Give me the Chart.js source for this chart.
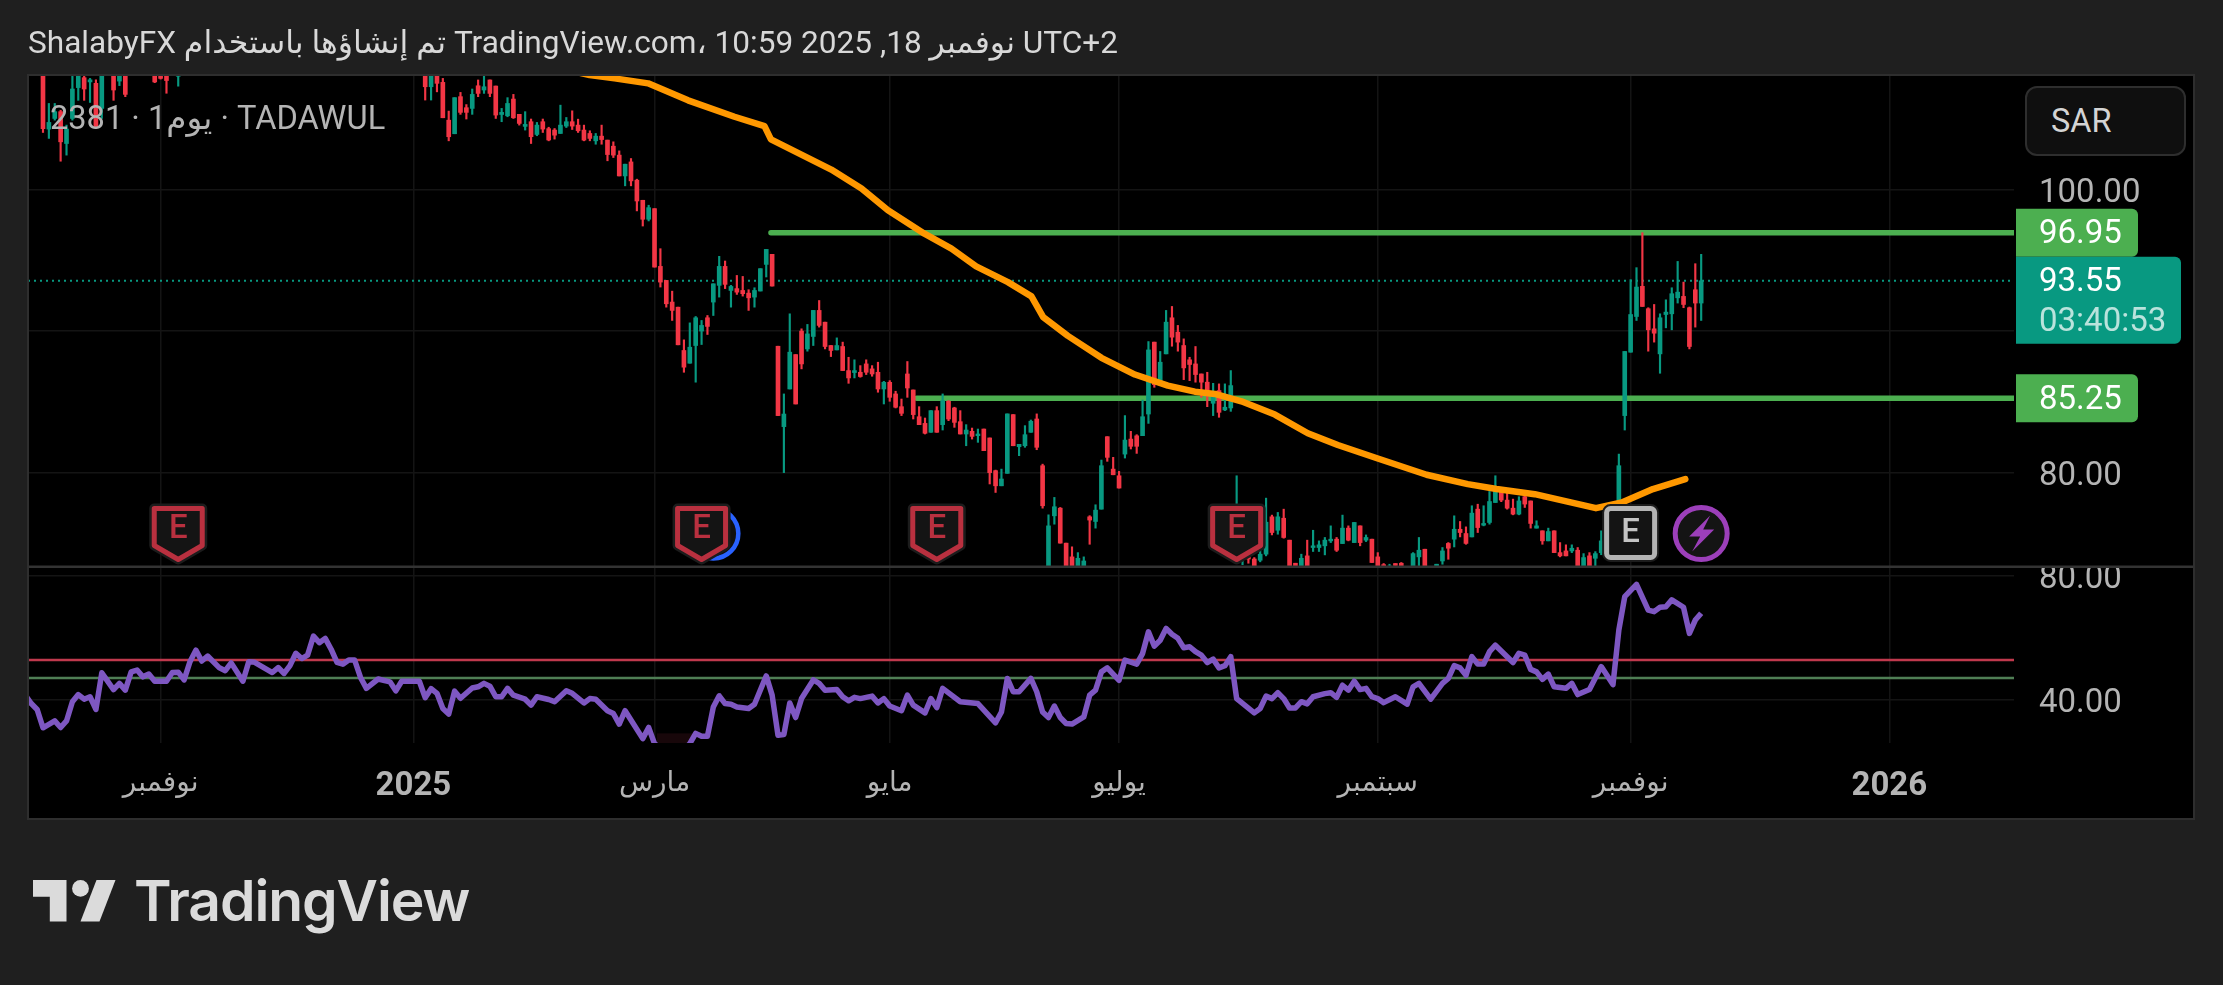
<!DOCTYPE html>
<html lang="ar">
<head>
<meta charset="utf-8">
<title>TADAWUL 2381</title>
<script src="https://cdn.jsdelivr.net/npm/chart.js@4"></script>
<style>
  html, body { margin: 0; padding: 0; background: #1f1f1f; }
  #wrap { position: relative; width: 2223px; height: 985px; overflow: hidden; font-family: Roboto, "DejaVu Sans", sans-serif; }
  canvas { position: absolute; left: 0; top: 0; }
  .bd { unicode-bidi: isolate; }
  #title { position: absolute; left: 28px; top: 24px; line-height: 38px; font-size: 31.6px; color: #d8d8d8; white-space: nowrap; direction: ltr; }
  #symbol { position: absolute; left: 50px; top: 99px; line-height: 38px; font-size: 32.6px; color: #b4b4b4; white-space: nowrap; direction: ltr; }
  #currency { position: absolute; left: 2025px; top: 86px; width: 161px; height: 70px; box-sizing: border-box; border: 2px solid #2e2e2e; border-radius: 12px; background: #0f0f0f; color: #d4d4d4; font-size: 32.5px; line-height: 66px; padding-left: 24px; }
  #logo { position: absolute; left: 33px; top: 880px; }
  #brand { position: absolute; left: 134px; top: 866px; line-height: 70px; font-family: Inter, Roboto, sans-serif; font-weight: 600; font-size: 57px; letter-spacing: -1.1px; color: #dbdbdb; white-space: nowrap; }
</style>
</head>
<body>
<div id="wrap">
  <canvas id="myChart" width="2223" height="985"></canvas>
  <div id="title"><span class="bd">ShalabyFX</span> <span class="bd">تم إنشاؤها باستخدام</span> <span class="bd">TradingView.com،</span> <span class="bd">10:59</span> <span class="bd">2025</span> <span class="bd" dir="ltr">,18</span> <span class="bd">نوفمبر</span> <span class="bd">UTC+2</span></div>
  <div id="symbol"><span class="bd">2381 · 1</span><span class="bd">يوم</span><span class="bd"> · TADAWUL</span></div>
  <div id="currency">SAR</div>
  <svg id="logo" width="84" height="42" viewBox="0 0 84 42">
    <path fill="#dbdbdb" d="M0 0H33.5V41.6H16.8V16.7H0Z"/>
    <circle fill="#dbdbdb" cx="47.5" cy="8.4" r="8.4"/>
    <path fill="#dbdbdb" d="M63.5 0H82.5L66.5 41.6H47.5Z"/>
  </svg>
  <div id="brand">TradingView</div>
</div>
<script>
const _ = null;

// daily candles, one slot per trading day, _ = bar is off the visible price range
const opens = [
  109,104.27,105.02,105.5,103.25,105.02,107.2,107.9,107.6,107.5,
  105.73,_,108.3,107.66,108.4,_,_,_,_,108.5,
  108.4,108.3,_,108,_,_,_,_,_,_,
  _,_,_,_,_,_,_,_,_,_,
  _,_,_,_,_,_,_,_,_,_,
  _,_,_,_,_,_,_,_,_,_,
  _,_,_,_,_,108.5,107.26,108,107.57,104.9,
  103.94,106.56,105.78,105.73,107.33,107.03,107.74,107.31,105.3,105.21,
  106.39,105.31,104.46,104.79,103.89,104.79,104.3,104.2,103.96,104.48,
  104.79,104.55,104.2,103.96,103.44,103.77,103.49,103.06,102.43,100.96,
  101.95,100.66,99.24,97.9,98.65,94.57,93.58,92.05,91.69,88.63,
  87.73,88.98,90,90.94,92.05,93.23,94.57,92.87,93,92.87,
  92.68,92.4,92.83,94.71,95.42,88.93,83.25,85.91,88.34,90,
  88.74,89.62,91.46,90.63,88.98,88.67,88.91,87.21,87.07,87.09,
  87.68,87.33,87.09,85.91,86.38,85.56,84.66,86.97,85.84,83.95,
  83.48,82.85,84.38,83.39,85.04,84.57,83.6,82.73,82.92,82.61,
  83.08,82.45,80.14,79.07,79.95,84.1,81.83,81.9,82.85,83.79,
  80.49,73,76.95,77.49,75.02,74.05,73.4,73.3,76.88,76.55,
  77.42,82.54,80.25,79.78,81.31,82.37,82.6,82.61,84.14,89.22,
  86.27,88.39,90.94,89.92,88.98,87.97,87.68,86.97,86.39,84.9,
  85.8,84.43,84.57,74.8,74,74.2,73.9,73.81,74.24,76.88,
  75.93,76.78,75.23,73.6,73.3,74.12,74.71,74.71,74.83,75.18,
  75.3,74.99,76.08,75.06,76.24,75.23,75.3,74.05,73.5,73.2,
  73.58,73.6,_,73,74.05,74.59,_,73,73.76,75,
  75.3,76,75.7,75.46,77.42,76.29,76.48,77.89,78.84,78.06,
  77.49,77.07,78.3,78,76.08,75.89,75.18,75.89,74.35,74.47,
  74.47,74.52,73.2,74.12,73.95,74.35,75.2,75.5,76,84.03,
  88.51,91.03,93.16,91.58,90.16,88.39,91.17,91.22,92.35,92.45,
  91.65,92.92,91.98
];
const highs = [
  109.5,106.08,106.08,105.6,104.55,108.2,108.6,108.3,107.85,107.75,
  108.6,_,108.8,108.6,108.8,_,_,_,_,108.8,
  108.6,108.6,_,108.6,_,_,_,_,_,_,
  _,_,_,_,_,_,_,_,_,_,
  _,_,_,_,_,_,_,_,_,_,
  _,_,_,_,_,_,_,_,_,_,
  _,_,_,_,_,108.8,108.8,108.4,107.85,105.54,
  106.49,106.86,106,107.1,107.74,108.09,107.74,107.31,105.73,106.49,
  106.72,105.31,105.5,104.98,104.74,104.98,104.4,104.31,105.96,105.09,
  105.56,104.97,104.55,104.15,103.96,104.55,103.49,103.37,102.73,101.79,
  102.19,100.73,99.24,98.89,98.65,95.82,93.58,92.82,91.69,89.38,
  90.58,91.03,90.75,91.1,93.34,95.28,94.95,93.23,93.93,93.86,
  92.92,93.06,94.41,95.77,95.42,88.93,85.56,91.22,88.34,90.16,
  90.47,91.46,92.16,90.63,88.98,89.52,89.22,88.15,87.97,87.56,
  87.97,87.56,87.8,86.45,86.5,85.75,85.2,87.85,85.84,84.66,
  83.86,84.38,84.66,85.56,85.09,84.62,84.38,83.39,83.15,83.08,
  83.08,82.45,80.18,80.25,84.15,84.1,82,83.32,83.72,84.15,
  80.6,77.02,78.25,77.54,75.02,74.76,74.35,74.05,76.96,77.73,
  80.89,82.54,81.08,80.09,84.03,82.92,82.68,85.13,89.26,89.22,
  88.56,91.46,91.74,90.4,89.45,88.15,88.91,86.97,87.09,86.31,
  86.27,86.27,87.21,79.78,75,74.5,74,74.5,78.2,77,
  77.19,77.42,75.23,73.6,74.24,75.23,75.93,75.18,75.42,76.24,
  75.42,77,76.24,76.48,76.24,75.6,75.3,74.35,73.58,73.53,
  73.58,73.65,_,74.35,75.42,74.59,_,73.53,74.71,75.06,
  76.95,76.55,76.17,77.66,77.77,77.66,78.67,79.78,78.95,78.72,
  78.13,78.3,78.37,78,76.6,75.89,76.08,75.89,75.06,74.9,
  74.9,74.71,74.28,74.35,74.42,75.89,75.7,76.1,81.31,88.56,
  93.63,94.48,96.95,91.65,91.88,91.22,92.21,93.06,94.92,93.46,
  91.7,94.76,95.42
];
const lows = [
  104.03,103.61,104.9,102,102.43,104.9,106.3,106.3,106.15,104.3,
  105.02,_,106.3,107.34,106.56,_,_,_,_,107.55,
  107.8,106.8,_,107.3,_,_,_,_,_,_,
  _,_,_,_,_,_,_,_,_,_,
  _,_,_,_,_,_,_,_,_,_,
  _,_,_,_,_,_,_,_,_,_,
  _,_,_,_,_,106.32,106.32,106.9,105.07,103.44,
  103.94,105.31,104.98,105.31,106.56,106.79,106.56,105.02,104.79,105.14,
  105.02,104.55,104.2,103.25,103.8,104.03,103.44,103.56,103.96,104.38,
  104.24,104.03,103.44,103.44,103.2,103.2,102.03,102.26,100.96,100.26,
  100.26,98.49,97.42,97.78,94.52,93.11,91.69,90.75,89.03,87.09,
  87.73,86.39,89.05,89.76,91.1,92.4,93,91.69,92.59,92.47,
  91.46,91.69,92.83,93.82,93.18,84.03,80,85.91,84.85,87.33,
  88.58,88.98,90.28,88.74,88.2,88.67,87.21,86.31,86.69,86.74,
  86.93,86.81,85.68,84.85,85.04,84.57,84.03,85.32,83.79,83.39,
  82.73,82.85,82.85,83.01,83.67,83.2,82.73,81.9,82.37,82.14,
  81.55,79.2,78.6,79.07,79.95,81.9,81.2,81.79,82.85,81.62,
  77.49,72.8,76.36,75.02,73,73,73,73,74.94,76.08,
  77.42,80.8,79.85,78.91,81.03,81.67,81.36,82.61,83.48,86.03,
  86.22,88.39,88.93,88.58,86.57,86.5,86.39,85.32,84.66,84.03,
  83.91,84.38,84.33,74.3,73.5,73.6,73,73.7,74.12,75.6,
  75.65,75.37,73,73,73,73,74.43,74.43,74.19,75.06,
  74.43,74.99,75.18,75.06,74.83,75.13,73.65,73.1,73,73,
  73.1,73,_,73,73,73,_,73,73.53,73.88,
  74.75,75.46,74.94,75.46,75.77,76.24,76.36,77.89,77.95,77.42,
  77.02,77.02,77.54,76.08,76.08,74.94,75.18,74.35,74.05,74.12,
  74.35,73,73,73,73.4,74.2,75,75.3,75.8,83.01,
  88.51,90.75,91.74,88.58,89.22,87.02,90.23,90.09,91.98,91.65,
  88.74,90.28,90.75
];
const closes = [
  104.3,104.74,105.5,103.37,104.27,107.1,108.3,107.1,107.75,104.43,
  108.2,_,107.03,108.3,106.72,_,_,_,_,107.6,
  107.85,107.7,_,108.3,_,_,_,_,_,_,
  _,_,_,_,_,_,_,_,_,_,
  _,_,_,_,_,_,_,_,_,_,
  _,_,_,_,_,_,_,_,_,_,
  _,_,_,_,_,107.26,108.3,107.5,105.07,103.73,
  106.49,105.45,105.45,106.72,106.79,107.26,106.79,105.26,105.45,106.08,
  105.07,104.67,104.6,103.73,104.55,104.27,103.5,103.84,104.55,104.79,
  104.48,104.15,103.49,103.61,103.77,103.53,102.47,102.43,100.96,101.79,
  100.61,99.19,97.9,98.72,94.52,93.46,91.93,91.46,89.03,87.45,
  88.86,90.94,90.4,90.33,93.34,94.57,93.3,93.15,92.75,92.64,
  92.35,92.87,94.41,95.77,93.18,84.03,84.14,88.51,84.85,87.68,
  89.8,91.46,90.4,88.91,88.63,88.98,87.21,86.69,87.21,86.79,
  87.09,86.97,85.91,86.38,85.32,84.62,84.19,85.98,84.1,83.39,
  82.78,84.38,82.85,85.09,83.79,83.55,82.73,83.01,82.56,82.73,
  81.55,80,79.07,79.55,84.15,81.9,82,82.68,83.63,81.79,
  77.66,76.24,77.59,75.02,73.4,73.4,73.95,73.76,76.65,77.35,
  80.49,81.08,79.85,78.91,82.3,81.86,81.86,83.95,88.67,86.22,
  87.8,90.63,89.57,89.22,87.4,87.64,86.93,86.39,85.44,85.68,
  84.26,84.62,86.15,76,74.5,73.9,73.3,74.24,76.5,75.77,
  76.88,75.42,73.2,73.3,73.95,73.3,74.83,74.9,75.23,75.3,
  74.52,76.08,75.23,76.48,75.06,75.42,73.65,73.41,73.2,73.4,
  73.44,73.3,_,74.28,74.52,73.3,_,73.53,74.47,74.66,
  76,75.77,75,77.14,76.12,76.41,77.96,78.91,78.06,77.49,
  77.07,78,77.78,76.41,76.24,75.18,75.84,74.35,74.12,74.12,
  74.66,73.3,74,73.4,74.28,75.18,75.5,75.9,80.49,88.56,
  91.17,93.11,91.74,90.09,89.85,90.94,91.34,92.64,92.75,91.88,
  88.91,91.98,93.55
];

// moving average
const maBars = [80,92.97,97.2,102.9,109.7,117.6,122.7,123.8,134.06,139.2,143.7,149.9,154.5,158.7,164.1,168.1,170.1,174.3,180,185.7,191.3,195.9,199.3,203.8,209.5,215.1,220.2,227,235.3,242.3,247.2,253.7,264.1,268.5,273.8,279.3];
const maValues = [109.3,108.09,107.85,107.5,106.3,105.14,104.48,103.54,101.41,100.07,98.53,96.88,95.82,94.57,93.46,92.45,90.98,89.66,88.11,86.93,86.15,85.72,85.56,85.04,84.1,82.78,81.95,81,79.85,79.19,78.84,78.48,77.49,77.89,78.84,79.54];

// RSI pane, turning points of the purple line
const rsiBars = [-3,-2,-1,0,2,3,4,5,6,7,8,9,10,12,13,14,15,16,17,18,19,21,22,23,24,25,26,27,28,30,31,32,34,35,36,39,40,41,42,43,44,45,46,47,48,49,50,51,52,53,54,55,57,59,60,61,64,65,66,67,68,69,70,71,73,74,75,76,77,78,79,80,82,83,84,86,87,89,90,92,93,94,96,97,98,99,102,103,104,105,106,107,108,109,110,111,112,113,114,115,116,117,118,120,121,123,124,125,126,127,128,129,131,132,133,135,136,137,138,139,141,142,143,144,146,147,148,150,151,152,153,156,159,162,163,164,165,166,168,169,170,171,172,173,174,175,177,178,179,180,181,183,184,186,187,188,189,190,191,192,193,194,195,196,197,198,199,200,201,202,203,206,207,208,209,210,211,212,213,214,215,216,218,219,220,221,222,223,224,225,226,227,228,230,232,233,234,236,238,239,240,241,242,243,244,245,246,247,250,251,252,253,254,255,256,257,259,260,261,263,265,267,268,269,271,273,274,275,276,277,279,280,281,282];
const rsiValues = [41.6,38.9,37,31.1,33.3,31.2,33.3,39.5,41.8,40.3,41.1,37,48.8,43.4,45.4,43.2,49.1,49.7,47.5,48.4,46.1,46.1,48.9,49,46.5,52.4,56.1,52.6,54.2,50.4,49.5,52,46.1,52.4,52.2,48.9,50.5,48.6,51.1,55.1,53.4,54.5,60.6,58.5,59.9,56.4,52.2,51.6,52.9,52.9,47.3,43.8,46.8,45.9,43,46.1,46.1,40.8,43.7,42.2,37.3,35.5,42.9,40.6,43.9,44.3,45.4,44.5,41.1,41.1,43.8,41.6,40.3,38.4,41.1,40.2,39.5,43,42.2,39.1,40.5,40.3,36.6,35.7,32.3,36.6,27.6,31.2,26,24.5,23,22.5,22.5,24,26,29.3,28.4,28.4,37.8,41.4,38.9,38.7,37.8,37.3,38.7,47.8,41.6,28.7,28.9,39.1,34.4,40.5,46.5,45.4,43.2,43.4,41.1,39.8,40.9,40.5,41.3,39.1,40.5,38.1,36.6,41.6,38.4,35.9,40.5,37.6,43.8,39.5,38.9,32.7,36.2,47,42.7,42.7,47,42.7,36.2,34.4,38.1,34.4,32.5,32.3,34.6,41.6,43.2,49.1,50.4,46.4,52.9,51.6,55,62,57.4,59.3,63.1,61.2,59.9,56.9,57.2,55.6,54.5,52.1,53.2,50.4,51.1,54,40.5,35.9,37.3,41.3,40.5,42.4,40.5,37.5,37.5,39.5,38.8,41.1,42.1,42.4,40.9,44.8,43.2,46.1,43.4,43.8,41.1,40.5,39.2,41.1,38.7,44.3,45.4,40.3,45.4,47,51.1,50.4,48,54,51.6,51.6,55.6,57.7,52.1,55.1,54.5,49.9,49.1,46.7,48.4,44.3,43.8,45.4,41.8,43.4,50.8,45,62.6,73.3,77.3,69,68.5,69.9,70.1,72.3,69.9,61.5,65.8,68];
const rsiUpper = 52.9;
const rsiLower = 47.1;

// axes
const xTickBars = [20, 63, 104, 144, 183, 227, 270, 314];
const xTickLabels = ["نوفمبر", "2025", "مارس", "مايو", "يوليو", "سبتمبر", "نوفمبر", "2026"];
const yearTickBars = [63, 314];
const priceTicks = [80, 90, 100];
const rsiTicks = [40, 80];
const xRange = [-2.55, 335.2];
const priceRange = [73.34, 108.09];
const rsiRange = [26.2, 82.9];

// drawn levels and chart marks
const levels = [{ price: 96.95, fromBar: 123.8 }, { price: 85.25, fromBar: 148.6 }];
const lastPrice = 93.55;
const countdown = "03:40:53";
const earningsBars = [23, 112, 152, 203];
const earningsNextBar = 270;
const dividendBar = 114;
const splitBar = 282;
const markerPrice = 75.7;

const GREEN = "#089981";
const RED = "#F23645";
const LEVEL = "#4CAF50";
const GRID = "#141414";
const LABEL = "#b4b4b4";

Chart.defaults.font.family = 'Roboto, "DejaVu Sans", sans-serif';
Chart.defaults.font.size = 33;
Chart.defaults.color = LABEL;

const wicks = [];
const bodies = [];
const candleColors = [];
opens.forEach(function (open, i) {
  if (open === null) return;
  wicks.push({ x: i, y: [lows[i], highs[i]] });
  bodies.push({ x: i, y: [Math.min(open, closes[i]), Math.max(open, closes[i])] });
  candleColors.push(closes[i] >= open ? GREEN : RED);
});

function pairs(xs, ys) {
  return xs.map(function (x, i) { return { x: x, y: ys[i] }; });
}

function flatLine(y, from, axis, color, width, order, extra) {
  return Object.assign({
    type: "line",
    data: [{ x: from, y: y }, { x: xRange[1], y: y }],
    yAxisID: axis,
    borderColor: color,
    borderWidth: width,
    pointRadius: 0,
    order: order,
  }, extra || {});
}

function noPadding(scale) {
  scale.paddingLeft = 0;
  scale.paddingRight = 0;
  scale.paddingTop = 0;
  scale.paddingBottom = 0;
}

function badgeE(ctx, x, y, color) {
  ctx.save();
  ctx.lineJoin = "round";
  ctx.beginPath();
  ctx.moveTo(x - 24, y - 25);
  ctx.lineTo(x + 24, y - 25);
  ctx.lineTo(x + 24, y + 12);
  ctx.lineTo(x, y + 26);
  ctx.lineTo(x - 24, y + 12);
  ctx.closePath();
  ctx.strokeStyle = "#1c1c1c";
  ctx.lineWidth = 10;
  ctx.stroke();
  ctx.fillStyle = "#141414";
  ctx.fill();
  ctx.strokeStyle = color;
  ctx.lineWidth = 5;
  ctx.stroke();
  ctx.fillStyle = color;
  ctx.font = '500 33px Roboto';
  ctx.textAlign = "center";
  ctx.textBaseline = "middle";
  ctx.fillText("E", x, y - 4);
  ctx.restore();
}

function priceTag(ctx, top, height, width, color) {
  ctx.fillStyle = color;
  ctx.beginPath();
  ctx.roundRect(2016, top, width, height, [0, 6, 6, 0]);
  ctx.fill();
}

const chromePlugin = {
  id: "chrome",
  beforeDraw: function (chart) {
    const ctx = chart.ctx;
    ctx.save();
    ctx.fillStyle = "#1f1f1f";
    ctx.fillRect(0, 0, 2223, 985);
    ctx.fillStyle = "#000";
    ctx.fillRect(28, 75, 2166, 744);
    ctx.restore();
  },
  // faint oversold fill where RSI leaves the pane
  beforeDatasetsDraw: function (chart) {
    const ctx = chart.ctx;
    const x = chart.scales.x;
    const r = chart.scales.yRsi;
    ctx.save();
    ctx.fillStyle = "rgba(110,30,45,0.22)";
    const top = r.getPixelForValue(29.3);
    ctx.fillRect(x.getPixelForValue(104.4), top, x.getPixelForValue(110.4) - x.getPixelForValue(104.4), r.bottom - top);
    ctx.restore();
  },
  afterDraw: function (chart) {
    const ctx = chart.ctx;
    const x = chart.scales.x;
    const p = chart.scales.y;
    ctx.save();

    // pane separator, cuts the top of the 80.00 label like the original
    ctx.fillStyle = "#000";
    ctx.fillRect(2015, 556, 170, 10);
    ctx.fillStyle = "#333";
    ctx.fillRect(28, 565.5, 2166, 2.5);

    // panel border
    ctx.strokeStyle = "#2e2e2e";
    ctx.lineWidth = 2;
    ctx.strokeRect(28, 75, 2166, 744);

    // price tags
    ctx.font = "33px Roboto";
    ctx.textBaseline = "middle";
    ctx.textAlign = "left";
    levels.forEach(function (l) {
      const y = p.getPixelForValue(l.price);
      priceTag(ctx, y - 24, 48, 122, LEVEL);
      ctx.fillStyle = "#fff";
      ctx.fillText(l.price.toFixed(2), 2039, y + 2);
    });
    const ly = p.getPixelForValue(lastPrice);
    priceTag(ctx, ly - 24, 87, 165, GREEN);
    ctx.fillStyle = "#fff";
    ctx.fillText(lastPrice.toFixed(2), 2039, ly + 2);
    ctx.fillStyle = "rgba(255,255,255,0.72)";
    ctx.fillText(countdown, 2039, ly + 42);

    const my = p.getPixelForValue(markerPrice);

    // blue dividend circle, mostly hidden by the earnings badge
    ctx.beginPath();
    ctx.arc(x.getPixelForValue(dividendBar), my, 25, 0, Math.PI * 2);
    ctx.fillStyle = "#111";
    ctx.fill();
    ctx.strokeStyle = "#2962FF";
    ctx.lineWidth = 4.5;
    ctx.stroke();

    earningsBars.forEach(function (b) {
      badgeE(ctx, x.getPixelForValue(b), my, "#b9303f");
    });

    // upcoming earnings, square grey badge
    const ex = x.getPixelForValue(earningsNextBar);
    ctx.beginPath();
    ctx.roundRect(ex - 24, my - 25, 48, 49, 4);
    ctx.strokeStyle = "#1c1c1c";
    ctx.lineWidth = 9;
    ctx.stroke();
    ctx.fillStyle = "#141414";
    ctx.fill();
    ctx.strokeStyle = "#b4b4b4";
    ctx.lineWidth = 5;
    ctx.stroke();
    ctx.fillStyle = "#c4c4c4";
    ctx.font = "500 33px Roboto";
    ctx.textAlign = "center";
    ctx.fillText("E", ex, my);

    // purple split circle with bolt
    const sx = x.getPixelForValue(splitBar);
    ctx.beginPath();
    ctx.arc(sx, my, 26, 0, Math.PI * 2);
    ctx.fillStyle = "#141414";
    ctx.fill();
    ctx.strokeStyle = "#9C3FBA";
    ctx.lineWidth = 5;
    ctx.stroke();
    ctx.fillStyle = "#9C3FBA";
    ctx.beginPath();
    ctx.moveTo(sx + 9, my - 18);
    ctx.lineTo(sx - 12, my + 3);
    ctx.lineTo(sx - 1, my + 3);
    ctx.lineTo(sx - 9, my + 18);
    ctx.lineTo(sx + 13, my - 4);
    ctx.lineTo(sx + 2, my - 4);
    ctx.closePath();
    ctx.fill();

    ctx.restore();
  },
};

const datasets = [
  {
    type: "line",
    data: pairs(maBars, maValues),
    yAxisID: "y",
    borderColor: "#FF9800",
    borderWidth: 6.5,
    pointRadius: 0,
    borderJoinStyle: "round",
    borderCapStyle: "round",
    order: 1,
  },
  {
    type: "line",
    data: pairs(rsiBars, rsiValues),
    yAxisID: "yRsi",
    borderColor: "#7E57C2",
    borderWidth: 5.5,
    pointRadius: 0,
    borderJoinStyle: "round",
    order: 1,
  },
  {
    type: "bar",
    data: bodies,
    yAxisID: "y",
    backgroundColor: candleColors,
    barThickness: 4,
    grouped: false,
    order: 2,
  },
  {
    type: "bar",
    data: wicks,
    yAxisID: "y",
    backgroundColor: candleColors,
    barThickness: 1.5,
    grouped: false,
    order: 3,
  },
  flatLine(levels[0].price, levels[0].fromBar, "y", LEVEL, 5.5, 4, { borderCapStyle: "round" }),
  flatLine(levels[1].price, levels[1].fromBar, "y", LEVEL, 5.5, 4, { borderCapStyle: "round" }),
  flatLine(lastPrice, xRange[0], "y", GREEN, 2, 5, { borderDash: [2, 4] }),
  flatLine(rsiUpper, xRange[0], "yRsi", "#c0394d", 2.5, 6),
  flatLine(rsiLower, xRange[0], "yRsi", "#4f7f55", 2.5, 6),
];

const config = {
  data: { datasets: datasets },
  plugins: [chromePlugin],
  options: {
    responsive: false,
    animation: false,
    devicePixelRatio: 1,
    layout: { padding: { left: 28, top: 75, right: 29, bottom: 166 } },
    plugins: {
      legend: { display: false },
      tooltip: { enabled: false },
    },
    scales: {
      x: {
        type: "linear",
        offset: false,
        min: xRange[0],
        max: xRange[1],
        afterBuildTicks: function (scale) {
          scale.ticks = xTickBars.map(function (v) { return { value: v }; });
        },
        afterFit: function (scale) { scale.height = 76; noPadding(scale); },
        border: { display: false },
        grid: { offset: false, color: GRID, lineWidth: 1.5, drawTicks: false },
        ticks: {
          autoSkip: false,
          maxRotation: 0,
          padding: 24,
          color: LABEL,
          font: function (context) {
            const isYear = context.tick && yearTickBars.indexOf(context.tick.value) >= 0;
            return { size: isYear ? 33 : 28, weight: isYear ? "bold" : "normal" };
          },
          callback: function (value) {
            return xTickLabels[xTickBars.indexOf(value)];
          },
        },
      },
      y: {
        type: "linear",
        position: "right",
        stack: "panes",
        stackWeight: 491.7,
        min: priceRange[0],
        max: priceRange[1],
        afterBuildTicks: function (scale) {
          scale.ticks = priceTicks.map(function (v) { return { value: v }; });
        },
        afterFit: function (scale) { scale.width = 180; noPadding(scale); },
        border: { display: false },
        grid: { color: GRID, lineWidth: 1.5, drawTicks: false },
        ticks: {
          padding: 25,
          labelOffset: 4,
          color: LABEL,
          callback: function (value) { return value.toFixed(2); },
        },
      },
      yRsi: {
        type: "linear",
        axis: "y",
        position: "right",
        stack: "panes",
        stackWeight: 176,
        min: rsiRange[0],
        max: rsiRange[1],
        afterBuildTicks: function (scale) {
          scale.ticks = rsiTicks.map(function (v) { return { value: v }; });
        },
        afterFit: function (scale) { scale.width = 180; noPadding(scale); },
        border: { display: false },
        grid: { color: GRID, lineWidth: 1.5, drawTicks: false },
        ticks: {
          padding: 25,
          labelOffset: 4,
          color: LABEL,
          callback: function (value) { return value.toFixed(2); },
        },
      },
    },
  },
};

const myChart = new Chart(document.getElementById("myChart").getContext("2d"), config);
</script>
</body>
</html>
